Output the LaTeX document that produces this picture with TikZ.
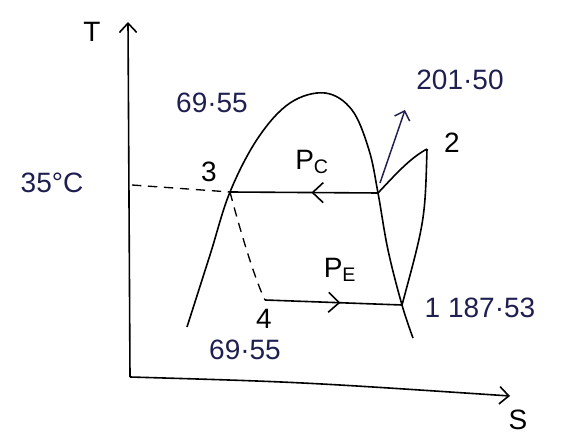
\documentclass[tikz,border=0pt]{standalone}
\usepackage{fontspec}
\setmainfont{Liberation Sans}
\usetikzlibrary{arrows.meta,decorations.markings,calc}
\definecolor{ink}{RGB}{30,30,80}
\tikzset{
  curve/.style={line width=1.2pt,black},
  axis/.style={line width=1.2pt,black,-{Straight Barb[length=7pt,width=13pt]}},
  midarrowL/.style={decoration={markings,mark=at position #1 with {\arrow{Straight Barb[length=8pt,width=15pt]}}},postaction=decorate},
  lbl/.style={font=\fontsize{21}{21}\selectfont,text=black,inner sep=1pt},
  val/.style={font=\fontsize{21}{21}\selectfont,text=ink,inner sep=1pt}
}
\begin{document}
\begin{tikzpicture}[x=0.75pt,y=-0.75pt]
\useasboundingbox (0,0) rectangle (572,434);
% points
\coordinate (o) at (130,377);
\coordinate (ttop) at (128,22);
\coordinate (send) at (510,396);
\coordinate (p3) at (230,192);
\coordinate (pk) at (378,193);
\coordinate (p2) at (427,149);
\coordinate (p1) at (402,305);
\coordinate (p4) at (265,300);
\coordinate (a35) at (132,185);
\coordinate (q0) at (380,183);
\coordinate (q1) at (405,110);
% axes
\draw[axis] (o) -- (ttop);
\draw[axis] (o) .. controls (300,382) .. (send);
% dome
\draw[curve] plot[smooth,tension=0.6] coordinates {(187,327) (210,255) (230,192) (258,138) (290,103) (325,93) (352,110) (369,150) (378,193) (388,250) (402,305) (413,338)};
% condenser line
\draw[curve,midarrowL=0.45] (pk) -- (p3);
% superheat and compression
\draw[curve] (pk) .. controls (395,175) and (410,158) .. (p2);
\draw[curve] (p2) .. controls (425,220) .. (p1);
% expansion dashed
\draw[line width=1pt,dash pattern=on 7pt off 5pt] (p3) .. controls (240,230) and (255,280) .. (p4);
\draw[line width=1pt,dash pattern=on 7pt off 5pt] (a35) -- (p3);
% evaporator
\draw[curve,midarrowL=0.55] (p4) -- (p1);
% arrow to 201.50
\draw[line width=1.1pt,ink,-{Straight Barb[length=6pt,width=12pt]}] (q0) -- (q1);
% labels
\node[lbl] (lT) at (92,32) {T};
\node[lbl] (lS) at (518,420) {S};
\node[val] (l35) at (52,183) {35°C};
\node[val] (l69a) at (212,103) {69·55};
\node[lbl] (l3) at (209,172) {3};
\node[lbl] (lPc) at (312,162) {P\textsubscript{C}};
\node[val] (l201) at (460,80) {201·50};
\node[lbl] (l2) at (452,143) {2};
\node[lbl] (lPE) at (340,270) {P\textsubscript{E}};
\node[lbl] (l4) at (264,319) {4};
\node[val] (l69b) at (245,350) {69·55};
\node[val] (l1) at (480,308) {1 187·53};
\end{tikzpicture}
\end{document}
